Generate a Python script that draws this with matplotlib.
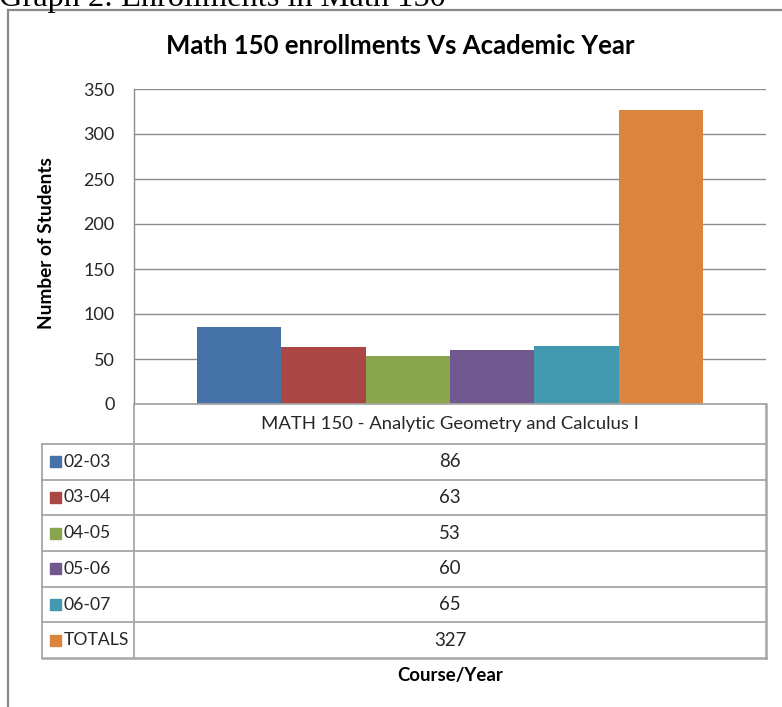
import matplotlib
matplotlib.use("Agg")
import matplotlib.pyplot as plt
from matplotlib.lines import Line2D
from matplotlib.patches import Rectangle

plt.rcParams["font.family"] = ["Lato", "DejaVu Sans"]

# data
years = ["02-03", "03-04", "04-05", "05-06", "06-07", "TOTALS"]
enrollments = [86, 63, 53, 60, 65, 327]
course = "MATH 150 - Analytic Geometry and Calculus I"
colors = ["#4572A7", "#AA4643", "#89A54E", "#71588F", "#4198AF", "#DB843D"]
yticks = [0, 50, 100, 150, 200, 250, 300, 350]

W, H = 782, 707
fig = plt.figure(figsize=(W / 100, H / 100), dpi=100)


def fx(px):
    return px / W


def fy(py):
    return 1 - py / H


grid_c = "#8c8c8c"
tbl_c = "#a6a6a6"
txt_c = "#262626"

# outer frame and cropped caption
fig.add_artist(Line2D([fx(8), fx(8)], [fy(10), fy(H + 5)], color="#8a8a8a", lw=1.6))
fig.add_artist(Line2D([fx(8), fx(W + 5)], [fy(10), fy(10)], color="#8a8a8a", lw=1.6))
fig.text(fx(-1), fy(6), "Graph 2: Enrollments in Math 150", family="Liberation Serif",
         fontsize=23.3, va="baseline", ha="left", color="black")

# plot area
left, right, top, bottom = 134, 766, 89, 404
ax = fig.add_axes([fx(left), fy(bottom), fx(right - left), (bottom - top) / H])
n = len(enrollments)
bw = 0.8 / n
for i, (v, c) in enumerate(zip(enrollments, colors)):
    ax.bar(-0.4 + bw * (i + 0.5), v, width=bw, color=c, edgecolor="none", zorder=3)
ax.set_xlim(-0.5, 0.5)
ax.set_ylim(0, 350)
ax.set_yticks(yticks)
ax.set_yticklabels([str(t) for t in yticks], fontsize=13, color=txt_c)
ax.set_xticks([])
ax.tick_params(axis="y", length=0, pad=14)
ax.yaxis.grid(True, color=grid_c, lw=1, zorder=0)
for s in ["top", "right", "bottom"]:
    ax.spines[s].set_visible(False)
ax.spines["left"].set_color(grid_c)
ax.spines["left"].set_linewidth(1)

fig.text(fx(400), fy(46), "Math 150 enrollments Vs Academic Year", fontsize=18.5,
         fontweight="bold", ha="center", va="center", color="black")
fig.text(fx(47), fy(243), "Number of Students", fontsize=13.7, fontweight="bold",
         rotation=90, ha="center", va="center", color="black")
fig.text(fx(450), fy(675), "Course/Year", fontsize=13.4, fontweight="bold",
         ha="center", va="center", color="black")

# data table under the plot
tleft = 42
head_bot = 444
tbot = 658
row_h = (tbot - head_bot) / n


def hline(x0, x1, y, c=tbl_c, lw=1.3):
    fig.add_artist(Line2D([fx(x0), fx(x1)], [fy(y), fy(y)], color=c, lw=lw))


def vline(x, y0, y1, c=tbl_c, lw=1.3):
    fig.add_artist(Line2D([fx(x), fx(x)], [fy(y0), fy(y1)], color=c, lw=lw))


hline(left, right, bottom, c=tbl_c)
vline(left, bottom, tbot)
vline(right, bottom, tbot, lw=1.8)
vline(tleft, head_bot, tbot)
hline(tleft, right, head_bot)
for k in range(1, n + 1):
    hline(tleft, right, head_bot + k * row_h, lw=1.8 if k == n else 1.3)

fig.text(fx((left + right) / 2), fy((bottom + head_bot) / 2), course, fontsize=13.3,
         ha="center", va="center", color=txt_c)
for k, (lab, v, c) in enumerate(zip(years, enrollments, colors)):
    yc = head_bot + (k + 0.5) * row_h
    fig.add_artist(Rectangle((fx(50), fy(yc + 5.5)), fx(11), 11 / H, color=c))
    fig.text(fx(64), fy(yc), lab, fontsize=12.6, ha="left", va="center", color=txt_c)
    fig.text(fx((left + right) / 2), fy(yc), str(v), fontsize=13.4, ha="center",
             va="center", color=txt_c)

fig.savefig("out.png", dpi=100)
